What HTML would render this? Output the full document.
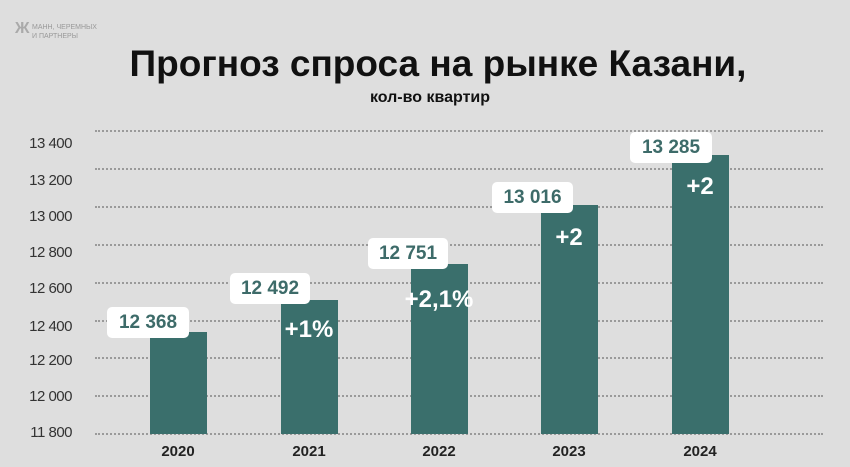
<!DOCTYPE html>
<html><head><meta charset="utf-8"><style>
body{margin:0;width:850px;height:467px;background:#dedede;overflow:hidden;font-family:"Liberation Sans","DejaVu Sans",sans-serif;position:relative}
.a{position:absolute}
.g{position:absolute;left:95px;width:728px;border-top:2px dotted #9a9a9a;height:0}
.yl{position:absolute;left:12px;width:60px;text-align:right;font-size:15px;color:#333;letter-spacing:-0.5px}
.bar{position:absolute;background:#3a6f6c;width:57px}
.box{position:absolute;background:#fff;border-radius:5px;color:#3d6b69;font-weight:bold;font-size:19px;text-align:center;line-height:31px;height:31px}
.pc{position:absolute;color:#fff;font-weight:bold;font-size:24px;text-align:center;width:80px}
.x{position:absolute;top:443px;font-weight:bold;font-size:15px;color:#222;width:60px;text-align:center}
</style></head><body>
<div class="a" style="left:15px;top:20px;font-size:16px;color:#aaa;font-weight:bold">Ж</div>
<div class="a" style="left:32px;top:23px;font-size:7px;color:#999;line-height:9px">МАНН, ЧЕРЕМНЫХ<br>И ПАРТНЕРЫ</div>
<div class="a" style="left:0;width:876px;text-align:center;top:43px;font-size:37px;font-weight:bold;color:#111">Прогноз спроса на рынке Казани,</div>
<div class="a" style="left:0;width:860px;text-align:center;top:89px;font-size:16px;font-weight:bold;color:#111">кол-во квартир</div>
<div class="g" style="top:130px"></div><div class="g" style="top:168px"></div><div class="g" style="top:206px"></div><div class="g" style="top:244px"></div><div class="g" style="top:282px"></div><div class="g" style="top:320px"></div><div class="g" style="top:357px"></div><div class="g" style="top:395px"></div><div class="g" style="top:433px"></div>
<div class="yl" style="top:135px">13 400</div><div class="yl" style="top:172px">13 200</div><div class="yl" style="top:208px">13 000</div><div class="yl" style="top:244px">12 800</div><div class="yl" style="top:280px">12 600</div><div class="yl" style="top:318px">12 400</div><div class="yl" style="top:352px">12 200</div><div class="yl" style="top:388px">12 000</div><div class="yl" style="top:424px">11 800</div>
<div class="bar" style="left:150px;top:332px;height:102px"></div>
<div class="bar" style="left:281px;top:300px;height:134px"></div>
<div class="bar" style="left:411px;top:264px;height:170px"></div>
<div class="bar" style="left:541px;top:205px;height:229px"></div>
<div class="bar" style="left:672px;top:155px;height:279px"></div>
<div class="box" style="left:107px;top:307px;width:82px">12 368</div>
<div class="box" style="left:230px;top:273px;width:80px">12 492</div>
<div class="box" style="left:368px;top:238px;width:80px">12 751</div>
<div class="box" style="left:492px;top:182px;width:81px">13 016</div>
<div class="box" style="left:630px;top:132px;width:82px">13 285</div>
<div class="pc" style="left:269px;top:316px">+1%</div>
<div class="pc" style="left:399px;top:286px">+2,1%</div>
<div class="pc" style="left:529px;top:224px">+2</div>
<div class="pc" style="left:660px;top:173px">+2</div>
<div class="x" style="left:148px">2020</div><div class="x" style="left:279px">2021</div><div class="x" style="left:409px">2022</div><div class="x" style="left:539px">2023</div><div class="x" style="left:670px">2024</div>
</body></html>
